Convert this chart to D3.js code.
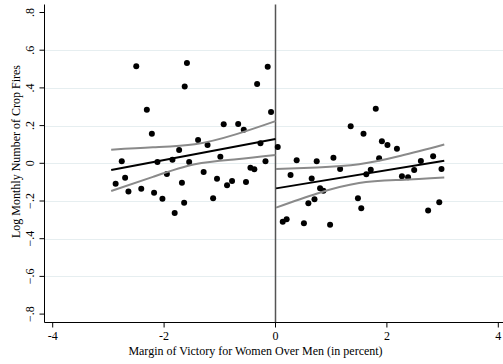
<!DOCTYPE html>
<html>
<head>
<meta charset="utf-8">
<script src="https://cdn.jsdelivr.net/npm/d3@7"></script>
<style>
  body { margin: 0; background: #fff; }
  svg { display: block; }
  text { font-family: "Liberation Serif", "Times New Roman", serif; fill: #000; }
</style>
</head>
<body>
<svg width="503" height="364"></svg>
<script>
// binned means, left of cutoff (women lost) and right (women won)
const leftBins = [
  [-2.50, 0.515], [-2.31, 0.284], [-2.22, 0.157], [-2.76, 0.011], [-2.12, 0.007],
  [-2.70, -0.076], [-2.87, -0.108], [-2.64, -0.149], [-2.41, -0.135], [-2.18, -0.156],
  [-1.59, 0.532], [-1.63, 0.408], [-0.14, 0.512], [-0.33, 0.421], [-0.08, 0.272],
  [-0.93, 0.207], [-0.67, 0.208], [-0.57, 0.178], [-1.39, 0.124], [-1.22, 0.097],
  [-1.73, 0.071], [-1.85, 0.019], [-1.55, 0.007], [-0.99, 0.035], [-0.27, 0.106],
  [-0.18, 0.011], [-0.45, -0.023], [-0.38, -0.032], [-1.95, -0.057], [-1.29, -0.046],
  [-1.05, -0.082], [-1.68, -0.103], [-2.03, -0.188], [-1.64, -0.209], [-1.12, -0.186],
  [-0.87, -0.117], [-0.78, -0.094], [-0.53, -0.099], [-1.81, -0.264]
];
const rightBins = [
  [0.04, 0.086], [1.80, 0.290], [1.35, 0.196], [1.58, 0.157], [1.91, 0.117],
  [2.01, 0.097], [1.86, 0.027], [0.38, 0.016], [0.74, 0.011], [1.04, 0.030],
  [1.16, -0.030], [1.71, -0.034], [1.63, -0.058], [0.27, -0.062], [0.65, -0.080],
  [0.80, -0.133], [0.86, -0.145], [0.70, -0.191], [0.59, -0.212], [1.48, -0.186],
  [1.54, -0.239], [0.13, -0.310], [0.20, -0.297], [0.51, -0.318], [0.98, -0.326],
  [2.18, 0.077], [2.61, 0.012], [2.83, 0.037], [2.49, -0.036], [2.98, -0.030],
  [2.27, -0.069], [2.38, -0.074], [2.94, -0.207], [2.74, -0.251]
];

// fitted lines and 95% bands
const leftFit = [[-2.95, -0.036], [0, 0.129]];
const leftUpper = [[-2.95, 0.072], [-2.2, 0.085], [-1.45, 0.101], [-0.7, 0.155], [0, 0.224]];
const leftLower = [[-2.95, -0.147], [-2.2, -0.072], [-1.45, -0.005], [-0.7, 0.022], [0, 0.044]];
const rightFit = [[0.01, -0.133], [3.03, 0.013]];
const rightUpper = [[0.01, -0.030], [0.75, -0.022], [1.5, -0.005], [2.25, 0.040], [3.03, 0.100]];
const rightLower = [[0.01, -0.235], [0.75, -0.160], [1.5, -0.105], [2.25, -0.088], [3.03, -0.075]];

const xTicks = [-4, -2, 0, 2, 4];
const yTicks = [-0.8, -0.6, -0.4, -0.2, 0, 0.2, 0.4, 0.6, 0.8];
const yGrid = [-0.6, -0.4, -0.2, 0, 0.2, 0.4, 0.6];
const xTitle = "Margin of Victory for Women Over Men (in percent)";
const yTitle = "Log Monthly Number of Crop Fires";

var svg = d3.select("svg"),
  width = +svg.attr("width"),
  height = +svg.attr("height"),
  plotLeft = 44.5, plotRight = 503, plotTop = 4.5, plotBottom = 322.5;

var x = d3.scaleLinear().domain([-4, 4]).range([52.7, 498.3]);
var y = d3.scaleLinear().domain([-0.8, 0.8]).range([314.1, 12.5]);

// stata style tick labels: .8, -.2, 0
function fmt(v) {
  if (v === 0) return "0";
  var s = d3.format(".1f")(v);
  return s.replace("0.", ".");
}

// grid
svg.append("g").selectAll("line")
  .data(yGrid).enter().append("line")
  .attr("x1", plotLeft).attr("x2", plotRight)
  .attr("y1", d => Math.round(y(d)) + 0.5).attr("y2", d => Math.round(y(d)) + 0.5)
  .attr("stroke", "#e6eef0").attr("stroke-width", 1);

// cutoff line
svg.append("line")
  .attr("x1", x(0)).attr("x2", x(0))
  .attr("y1", plotTop).attr("y2", plotBottom)
  .attr("stroke", "#555").attr("stroke-width", 1.5);

// dots
var dots = svg.append("g");
[leftBins, rightBins].forEach(function(bins) {
  dots.selectAll(null).data(bins).enter().append("circle")
    .attr("cx", d => x(d[0])).attr("cy", d => y(d[1]))
    .attr("r", 3).attr("fill", "#000");
});

// fits
var line = d3.line().x(d => x(d[0])).y(d => y(d[1]));
var band = d3.line().x(d => x(d[0])).y(d => y(d[1])).curve(d3.curveNatural);
[leftUpper, leftLower, rightUpper, rightLower].forEach(function(b) {
  svg.append("path").attr("d", band(b))
    .attr("fill", "none").attr("stroke", "#8a8a8a").attr("stroke-width", 2);
});
[leftFit, rightFit].forEach(function(f) {
  svg.append("path").attr("d", line(f))
    .attr("fill", "none").attr("stroke", "#000").attr("stroke-width", 2);
});

// y axis
var ya = svg.append("g");
ya.append("line").attr("x1", plotLeft).attr("x2", plotLeft)
  .attr("y1", plotTop).attr("y2", plotBottom).attr("stroke", "#000").attr("stroke-width", 1);
ya.selectAll("line.tick").data(yTicks).enter().append("line").attr("class", "tick")
  .attr("x1", plotLeft - 5).attr("x2", plotLeft)
  .attr("y1", d => y(d)).attr("y2", d => y(d))
  .attr("stroke", "#000").attr("stroke-width", 1);
ya.selectAll("text").data(yTicks).enter().append("text")
  .attr("transform", d => "translate(34," + y(d) + ") rotate(-90)")
  .attr("text-anchor", "middle").attr("font-size", 12)
  .text(fmt);
svg.append("text")
  .attr("transform", "translate(20,151.5) rotate(-90)")
  .attr("text-anchor", "middle").attr("font-size", 12)
  .text(yTitle);

// x axis
var xa = svg.append("g");
xa.append("line").attr("x1", plotLeft).attr("x2", plotRight)
  .attr("y1", plotBottom).attr("y2", plotBottom).attr("stroke", "#000").attr("stroke-width", 1);
xa.selectAll("line.tick").data(xTicks).enter().append("line").attr("class", "tick")
  .attr("x1", d => x(d)).attr("x2", d => x(d))
  .attr("y1", plotBottom).attr("y2", plotBottom + 5)
  .attr("stroke", "#000").attr("stroke-width", 1);
xa.selectAll("text").data(xTicks).enter().append("text")
  .attr("x", d => x(d)).attr("y", 340)
  .attr("text-anchor", "middle").attr("font-size", 12)
  .text(d => d3.format("")(d).replace("−", "-"));
svg.append("text")
  .attr("x", 255.5).attr("y", 355)
  .attr("text-anchor", "middle").attr("font-size", 12)
  .text(xTitle);
</script>
</body>
</html>
